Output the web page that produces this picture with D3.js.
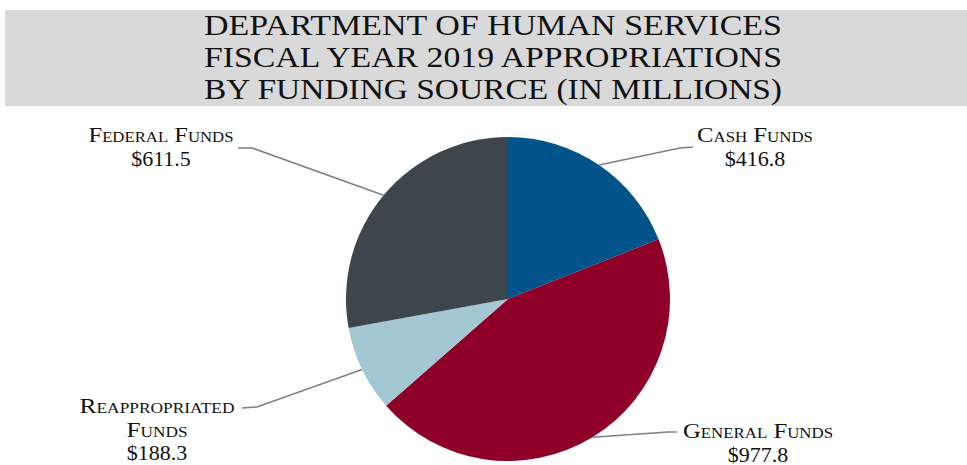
<!DOCTYPE html>
<html>
<head>
<meta charset="utf-8">
<script src="https://cdn.jsdelivr.net/npm/d3@7/dist/d3.min.js"></script>
<style>
  html, body { margin: 0; padding: 0; background: #ffffff; }
  svg { display: block; }
  .title { font-family: "Liberation Serif", "DejaVu Serif", serif; fill: #111; }
  .lbl { font-family: "Liberation Serif", "DejaVu Serif", serif; fill: #111; font-variant: small-caps; }
</style>
</head>
<body>
<svg id="chart" width="967" height="465"></svg>
<script>
// Funding sources, clockwise from 12 o'clock
const sources = ["Cash Funds", "General Funds", "Reappropriated Funds", "Federal Funds"];
const amounts = [416.8, 977.8, 188.3, 611.5];
const colors = ["#00548a", "#8f0028", "#a3c7d3", "#3e464d"];
const titleLines = [
  "DEPARTMENT OF HUMAN SERVICES",
  "FISCAL YEAR 2019 APPROPRIATIONS",
  "BY FUNDING SOURCE (IN MILLIONS)"
];

const svg = d3.select("#chart");

// Title banner
svg.append("rect")
  .attr("x", 5).attr("y", 10).attr("width", 962).attr("height", 96)
  .attr("fill", "#d9d9d9");

svg.selectAll("text.title")
  .data(titleLines)
  .join("text")
  .attr("class", "title")
  .attr("x", 493)
  .attr("y", (d, i) => 35 + i * 32)
  .attr("text-anchor", "middle")
  .attr("font-size", 30)
  .attr("textLength", 578)
  .attr("lengthAdjust", "spacingAndGlyphs")
  .text(d => d);

// Pie
const cx = 508, cy = 299, r = 162;
const pie = d3.pie().sort(null).value(d => d.value);
const arcs = pie(sources.map((s, i) => ({ name: s, value: amounts[i], color: colors[i] })));
const arc = d3.arc().innerRadius(0).outerRadius(r);

const g = svg.append("g").attr("transform", `translate(${cx},${cy})`);
g.selectAll("path")
  .data(arcs)
  .join("path")
  .attr("d", arc)
  .attr("fill", d => d.data.color);

// Label placement: text lines (with widths), anchor position and leader elbow per slice
const labelSpec = {
  "Cash Funds":           { lines: [["Cash Funds", 116]], x: 755, y: 142, elbow: [[693, 147], [680, 148]] },
  "General Funds":        { lines: [["General Funds", 150]], x: 758, y: 438, elbow: [[677, 432], [668, 432]] },
  "Reappropriated Funds": { lines: [["Reappropriated", 155], ["Funds", 61]], x: 157, y: 413, elbow: [[242, 408], [257, 407]] },
  "Federal Funds":        { lines: [["Federal Funds", 145]], x: 161, y: 142, elbow: [[238, 148], [252, 148]] }
};

const fmt = v => "$" + d3.format(".1f")(v);

arcs.forEach(a => {
  const spec = labelSpec[a.data.name];
  const mid = (a.startAngle + a.endAngle) / 2;
  const edge = [cx + r * Math.sin(mid), cy - r * Math.cos(mid)];
  svg.append("path")
    .attr("d", d3.line()([spec.elbow[0], spec.elbow[1], edge]))
    .attr("fill", "none")
    .attr("stroke", "#808080")
    .attr("stroke-width", 1.6);

  spec.lines.concat([[fmt(a.data.value), null]]).forEach(([ln, w], i) => {
    const t = svg.append("text")
      .attr("class", "lbl")
      .attr("text-anchor", "middle")
      .attr("font-size", 22)
      .attr("x", spec.x)
      .attr("y", spec.y + i * 23.5)
      .text(ln);
    if (w) t.attr("textLength", w).attr("lengthAdjust", "spacingAndGlyphs");
  });
});
</script>
</body>
</html>
